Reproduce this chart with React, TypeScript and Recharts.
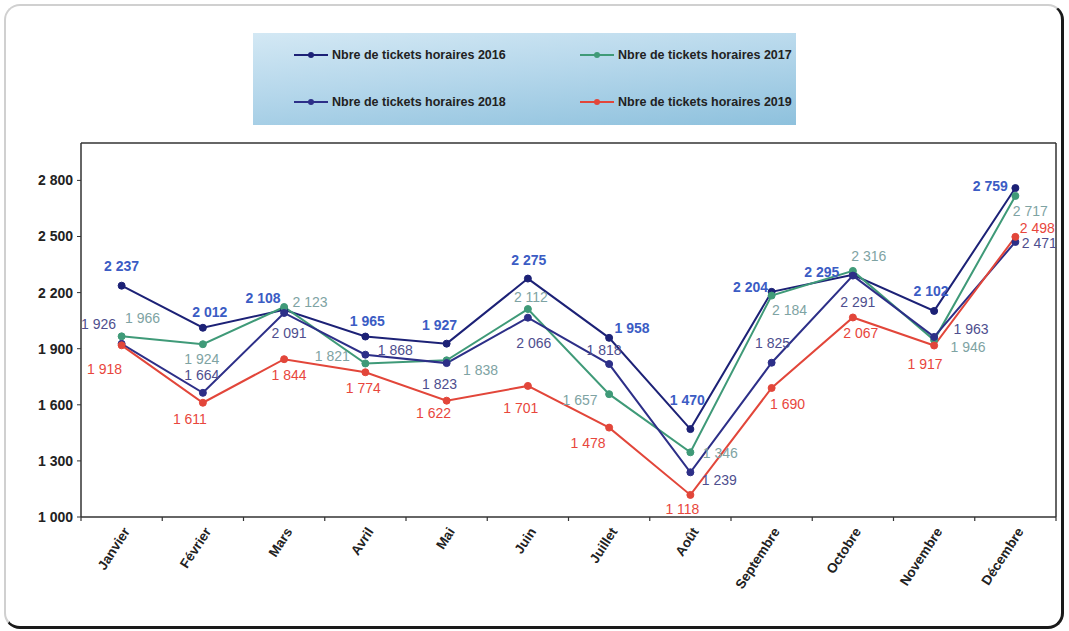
import React from 'react';
import { LineChart, Line, XAxis, YAxis, Legend, LabelList } from 'recharts';

const months = ['Janvier', 'Février', 'Mars', 'Avril', 'Mai', 'Juin', 'Juillet', 'Août', 'Septembre', 'Octobre', 'Novembre', 'Décembre'];
const tickets2016 = [2237, 2012, 2108, 1965, 1927, 2275, 1958, 1470, 2204, 2295, 2102, 2759];
const tickets2017 = [1966, 1924, 2123, 1821, 1838, 2112, 1657, 1346, 2184, 2316, 1946, 2717];
const tickets2018 = [1926, 1664, 2091, 1868, 1823, 2066, 1818, 1239, 1825, 2291, 1963, 2471];
const tickets2019 = [1918, 1611, 1844, 1774, 1622, 1701, 1478, 1118, 1690, 2067, 1917, 2498];
const yTicks = [1000, 1300, 1600, 1900, 2200, 2500, 2800];

// label offsets (dx, dy) relative to each point
const off2016 = [[0, -20], [7, -16], [-21, -12], [2, -16], [-7, -19], [1, -19], [23, -10], [-3, -29], [-21, -5], [-31, -3], [-3, -20], [-25, -2]];
const off2017 = [[21, -18], [-1, 15], [26, -5], [-33, -7], [34, 10], [3, -12], [-29, 6], [30, 1], [18, 14], [16, -15], [34, 7], [15, 15]];
const off2018 = [[-23, -20], [-1, -18], [5, 20], [30, -5], [-7, 21], [6, 25], [-5, -14], [29, 8], [1, -20], [5, 26], [37, -8], [24, 1]];
const off2019 = [[-17, 24], [-13, 16], [5, 16], [-2, 16], [-13, 12], [-7, 22], [-21, 15], [-8, 14], [16, 16], [8, 16], [-9, 18], [22, -9]];

const data = months.map((m, i) => ({
  month: m,
  y2016: tickets2016[i],
  y2017: tickets2017[i],
  y2018: tickets2018[i],
  y2019: tickets2019[i],
}));

const fmt = (v: number) => String(v).replace(/\B(?=(\d{3})+(?!\d))/g, ' ');

const series = [
  { key: 'y2016', name: 'Nbre de tickets horaires 2016', color: '#1c2176', labelColor: '#3b5cc4', weight: 'bold', offs: off2016 },
  { key: 'y2017', name: 'Nbre de tickets horaires 2017', color: '#3f9a78', labelColor: '#7ea3a3', weight: 'normal', offs: off2017 },
  { key: 'y2018', name: 'Nbre de tickets horaires 2018', color: '#2d2f88', labelColor: '#4e4e8e', weight: 'normal', offs: off2018 },
  { key: 'y2019', name: 'Nbre de tickets horaires 2019', color: '#e2463a', labelColor: '#e8463c', weight: 'normal', offs: off2019 },
];

const FONT = '"Liberation Sans", Arial, sans-serif';
const BAND = 975 / 12;

function MonthTick(props: any) {
  const { x, y, payload, index } = props;
  const tx = x + 5;
  const ty = y + 12;
  return (
    <g>
      <line x1={x - BAND / 2} y1={y} x2={x - BAND / 2} y2={y + 4} stroke="#333" strokeWidth={1.2} />
      {index === 11 && <line x1={x + BAND / 2} y1={y} x2={x + BAND / 2} y2={y + 4} stroke="#333" strokeWidth={1.2} />}
      <text x={tx} y={ty} transform={`rotate(-57, ${tx}, ${ty})`} textAnchor="end" dominantBaseline="central"
        fontFamily={FONT} fontSize={13.5} fontWeight="bold" fill="#222">
        {payload.value}
      </text>
    </g>
  );
}

function makeLabel(s: any) {
  return (props: any) => {
    const { x, y, index, value } = props;
    const o = s.offs[index] || [0, -15];
    return (
      <text x={x + o[0]} y={y + o[1]} textAnchor="middle" dominantBaseline="central"
        fontFamily={FONT} fontSize={14} fontWeight={s.weight} fill={s.labelColor}>
        {fmt(value)}
      </text>
    );
  };
}

function LegendBox() {
  const item = (s: any) => (
    <div key={s.key} style={{ display: 'flex', alignItems: 'center', height: 20 }}>
      <svg width={36} height={10} style={{ marginRight: 3 }}>
        <line x1={1} y1={5} x2={35} y2={5} stroke={s.color} strokeWidth={2} />
        <circle cx={18} cy={5} r={3} fill={s.color} />
      </svg>
      <span style={{ fontFamily: FONT, fontSize: 12.5, fontWeight: 'bold', color: '#222', whiteSpace: 'nowrap' }}>{s.name}</span>
    </div>
  );
  return (
    <div style={{
      width: 543, height: 92, boxSizing: 'border-box',
      background: 'linear-gradient(175deg, #d3e8f4 0%, #b5d7eb 45%, #8ec1dd 100%)',
      position: 'relative',
    }}>
      <div style={{ position: 'absolute', left: 40, top: 12 }}>{item(series[0])}</div>
      <div style={{ position: 'absolute', left: 326, top: 12 }}>{item(series[1])}</div>
      <div style={{ position: 'absolute', left: 40, top: 59 }}>{item(series[2])}</div>
      <div style={{ position: 'absolute', left: 326, top: 59 }}>{item(series[3])}</div>
    </div>
  );
}

export default function App() {
  return (
    <div style={{ position: 'fixed', left: 0, top: 0, width: 1069, height: 631, background: '#fff' }}>
      <div style={{
        position: 'absolute', left: 4, top: 4, width: 1055, height: 620,
        borderTop: '2px solid #d0d0d0', borderLeft: '2px solid #d0d0d0',
        borderRight: '3px solid #1a1a1a', borderBottom: '3px solid #1a1a1a',
        borderRadius: 16,
      }} />
      <div style={{ position: 'absolute', left: 0, top: 0 }}>
        <LineChart width={1069} height={631} data={data} margin={{ top: 142, right: 12, bottom: 0, left: 0 }}>
          <XAxis dataKey="month" height={114} tick={<MonthTick />} tickLine={false} tickSize={0} tickMargin={0}
            axisLine={{ stroke: '#333', strokeWidth: 1.5 }} interval={0} padding={{ left: BAND / 2, right: BAND / 2 }} />
          <XAxis xAxisId="top" orientation="top" dataKey="month" height={1} tick={false} tickLine={false}
            axisLine={{ stroke: '#333', strokeWidth: 1.5 }} padding={{ left: BAND / 2, right: BAND / 2 }} />
          <YAxis domain={[1000, 3000]} ticks={yTicks} width={81} tickFormatter={fmt} tickSize={4} tickMargin={4}
            tickLine={{ stroke: '#333' }} axisLine={{ stroke: '#333', strokeWidth: 1.5 }}
            tick={{ fontFamily: FONT, fontSize: 14, fontWeight: 'bold', fill: '#222' }} allowDataOverflow />
          <YAxis yAxisId="right" orientation="right" domain={[1000, 3000]} width={1} tick={false} tickLine={false}
            axisLine={{ stroke: '#333', strokeWidth: 1.5 }} />
          <Legend layout="horizontal" verticalAlign="middle" align="center"
            wrapperStyle={{ position: 'absolute', left: 253, top: 33, width: 543, height: 92 }}
            content={() => <LegendBox />} />
          {series.map((s) => (
            <Line key={s.key} type="linear" dataKey={s.key} name={s.name} stroke={s.color} strokeWidth={2}
              dot={{ r: 3.5, fill: s.color, stroke: s.color, strokeWidth: 1 }} isAnimationActive={false}>
              <LabelList dataKey={s.key} content={makeLabel(s)} />
            </Line>
          ))}
        </LineChart>
      </div>
    </div>
  );
}
